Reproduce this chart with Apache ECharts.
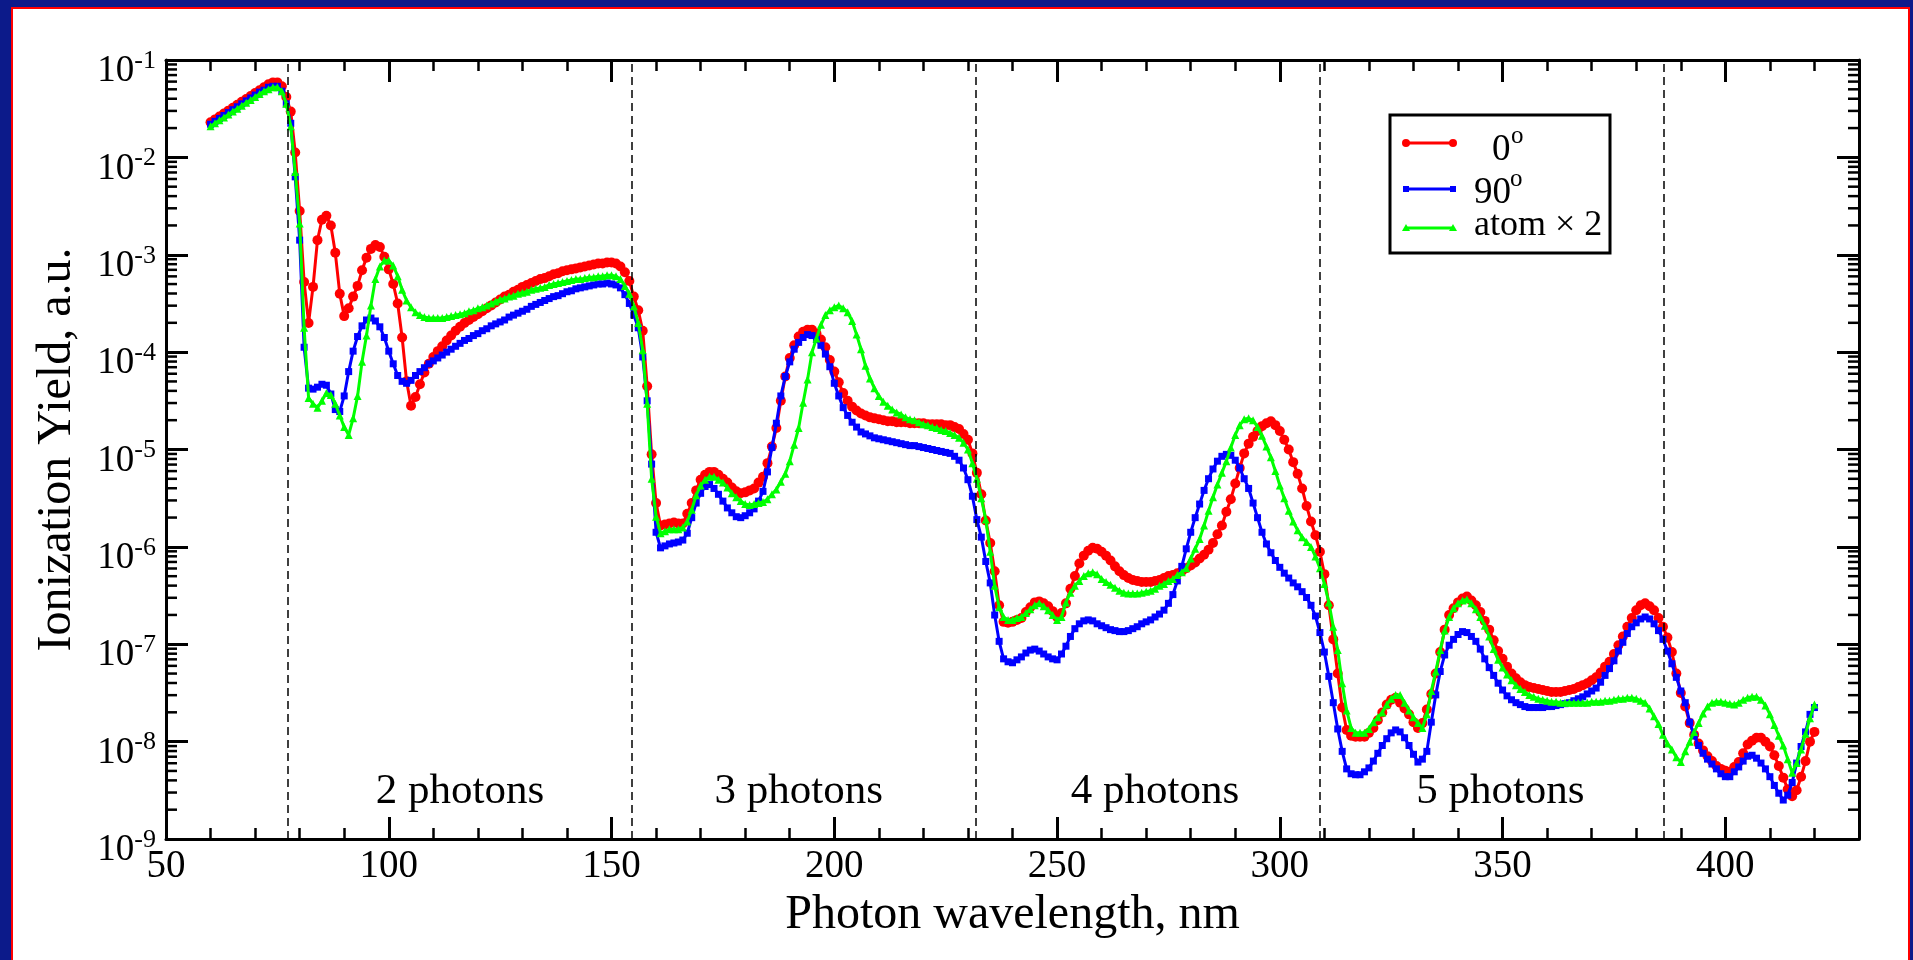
<!DOCTYPE html>
<html>
<head>
<meta charset="utf-8">
<title>Ionization yield vs photon wavelength</title>
<script src="https://cdn.jsdelivr.net/npm/echarts@6.0.0/dist/echarts.min.js"></script>
<style>
  html, body { margin: 0; padding: 0; width: 1913px; height: 960px; overflow: hidden; background: #0c1a8a; }
  #frame { position: absolute; left: 11px; top: 7px; width: 1895px; height: 960px; background: #fff; border: 2px solid #ff0000; border-bottom: none; }
  #chart { position: absolute; left: 0; top: 0; width: 1913px; height: 960px; }
</style>
</head>
<body>
<div id="frame"></div>
<div id="chart"></div>
<script>
// wavelength grid, nm
var wavelength = []
for (var w = 60; w <= 420; w++) wavelength.push(w)

// log10 of the yield (a.u.), one value per nm from 60 to 420
var yield0 = [
  -1.64,-1.61,-1.58,-1.55,-1.52,-1.49,-1.46,-1.43,-1.40,-1.37,
  -1.34,-1.31,-1.28,-1.25,-1.23,-1.23,-1.27,-1.38,-1.53,-1.95,
  -2.55,-3.28,-3.70,-3.33,-2.85,-2.64,-2.60,-2.70,-2.98,-3.40,
  -3.63,-3.55,-3.43,-3.32,-3.16,-3.03,-2.94,-2.90,-2.92,-3.02,
  -3.15,-3.30,-3.50,-3.85,-4.30,-4.55,-4.46,-4.33,-4.21,-4.12,
  -4.05,-3.99,-3.94,-3.88,-3.83,-3.78,-3.74,-3.70,-3.67,-3.64,
  -3.61,-3.58,-3.55,-3.52,-3.49,-3.46,-3.43,-3.41,-3.38,-3.36,
  -3.33,-3.31,-3.29,-3.27,-3.25,-3.24,-3.22,-3.20,-3.19,-3.17,
  -3.16,-3.15,-3.14,-3.13,-3.12,-3.11,-3.10,-3.09,-3.09,-3.08,
  -3.08,-3.09,-3.12,-3.18,-3.27,-3.43,-3.57,-3.78,-4.35,-5.05,
  -5.55,-5.78,-5.77,-5.76,-5.75,-5.76,-5.76,-5.66,-5.55,-5.42,
  -5.31,-5.26,-5.23,-5.23,-5.26,-5.30,-5.34,-5.39,-5.43,-5.45,
  -5.44,-5.42,-5.40,-5.34,-5.28,-5.14,-4.97,-4.78,-4.50,-4.25,
  -4.06,-3.93,-3.84,-3.79,-3.77,-3.77,-3.81,-3.87,-3.95,-4.08,
  -4.20,-4.31,-4.42,-4.50,-4.56,-4.60,-4.63,-4.65,-4.67,-4.68,
  -4.69,-4.70,-4.71,-4.71,-4.72,-4.72,-4.72,-4.73,-4.73,-4.73,
  -4.73,-4.74,-4.74,-4.74,-4.74,-4.75,-4.75,-4.77,-4.79,-4.84,
  -4.90,-5.04,-5.24,-5.46,-5.73,-5.96,-6.25,-6.60,-6.77,-6.78,
  -6.77,-6.75,-6.73,-6.67,-6.62,-6.57,-6.56,-6.58,-6.61,-6.66,
  -6.72,-6.68,-6.58,-6.43,-6.30,-6.17,-6.09,-6.04,-6.01,-6.02,
  -6.05,-6.09,-6.14,-6.20,-6.25,-6.29,-6.32,-6.34,-6.35,-6.36,
  -6.36,-6.36,-6.35,-6.34,-6.32,-6.30,-6.29,-6.27,-6.25,-6.22,
  -6.19,-6.16,-6.12,-6.08,-6.03,-5.96,-5.87,-5.78,-5.64,-5.51,
  -5.35,-5.19,-5.04,-4.94,-4.87,-4.81,-4.76,-4.73,-4.71,-4.75,
  -4.81,-4.90,-5.00,-5.13,-5.25,-5.40,-5.58,-5.74,-5.88,-6.05,
  -6.28,-6.60,-6.95,-7.30,-7.65,-7.88,-7.94,-7.95,-7.95,-7.95,
  -7.91,-7.86,-7.78,-7.70,-7.62,-7.57,-7.55,-7.60,-7.66,-7.72,
  -7.80,-7.86,-7.81,-7.67,-7.51,-7.30,-7.08,-6.85,-6.70,-6.63,
  -6.57,-6.53,-6.51,-6.55,-6.60,-6.67,-6.76,-6.85,-6.96,-7.07,
  -7.15,-7.23,-7.30,-7.35,-7.39,-7.42,-7.44,-7.45,-7.46,-7.47,
  -7.48,-7.49,-7.49,-7.49,-7.48,-7.47,-7.46,-7.44,-7.42,-7.40,
  -7.37,-7.34,-7.29,-7.23,-7.18,-7.10,-7.01,-6.92,-6.82,-6.73,
  -6.65,-6.60,-6.58,-6.61,-6.65,-6.73,-6.82,-6.93,-7.08,-7.30,
  -7.50,-7.64,-7.81,-7.93,-8.02,-8.09,-8.15,-8.20,-8.25,-8.28,
  -8.30,-8.31,-8.26,-8.21,-8.12,-8.03,-7.99,-7.96,-7.96,-8.00,
  -8.05,-8.14,-8.25,-8.37,-8.49,-8.56,-8.50,-8.36,-8.20,-8.00,
  -7.90
]

var yield90 = [
  -1.66,-1.63,-1.60,-1.57,-1.54,-1.51,-1.48,-1.45,-1.42,-1.39,
  -1.36,-1.33,-1.31,-1.28,-1.27,-1.27,-1.32,-1.45,-1.65,-2.20,
  -2.85,-3.95,-4.37,-4.38,-4.36,-4.33,-4.34,-4.43,-4.59,-4.61,
  -4.45,-4.20,-3.99,-3.84,-3.73,-3.67,-3.65,-3.68,-3.74,-3.85,
  -3.99,-4.12,-4.24,-4.30,-4.32,-4.29,-4.24,-4.20,-4.16,-4.12,
  -4.09,-4.06,-4.03,-4.00,-3.97,-3.94,-3.91,-3.88,-3.86,-3.83,
  -3.81,-3.78,-3.76,-3.73,-3.71,-3.69,-3.67,-3.64,-3.62,-3.60,
  -3.58,-3.56,-3.53,-3.51,-3.49,-3.47,-3.45,-3.43,-3.42,-3.40,
  -3.38,-3.37,-3.35,-3.34,-3.33,-3.32,-3.31,-3.30,-3.30,-3.29,
  -3.30,-3.31,-3.34,-3.41,-3.50,-3.62,-3.75,-4.05,-4.50,-5.15,
  -5.85,-6.01,-5.99,-5.97,-5.96,-5.95,-5.93,-5.86,-5.70,-5.55,
  -5.45,-5.38,-5.36,-5.40,-5.46,-5.53,-5.60,-5.65,-5.69,-5.70,
  -5.68,-5.65,-5.61,-5.53,-5.43,-5.23,-4.98,-4.73,-4.45,-4.25,
  -4.10,-3.97,-3.90,-3.85,-3.82,-3.83,-3.87,-3.93,-4.02,-4.15,
  -4.32,-4.45,-4.57,-4.65,-4.72,-4.77,-4.82,-4.84,-4.86,-4.88,
  -4.89,-4.90,-4.91,-4.92,-4.93,-4.94,-4.95,-4.96,-4.96,-4.97,
  -4.98,-4.99,-5.00,-5.01,-5.02,-5.03,-5.04,-5.07,-5.11,-5.19,
  -5.31,-5.48,-5.72,-5.90,-6.15,-6.37,-6.70,-6.97,-7.15,-7.18,
  -7.19,-7.16,-7.13,-7.09,-7.06,-7.05,-7.07,-7.10,-7.13,-7.15,
  -7.16,-7.10,-7.02,-6.92,-6.84,-6.79,-6.76,-6.75,-6.76,-6.79,
  -6.81,-6.83,-6.85,-6.86,-6.87,-6.87,-6.86,-6.84,-6.82,-6.79,
  -6.77,-6.75,-6.72,-6.69,-6.65,-6.58,-6.49,-6.35,-6.20,-6.02,
  -5.85,-5.70,-5.56,-5.42,-5.30,-5.20,-5.12,-5.07,-5.05,-5.06,
  -5.11,-5.19,-5.30,-5.40,-5.55,-5.70,-5.85,-5.97,-6.06,-6.14,
  -6.21,-6.27,-6.32,-6.37,-6.41,-6.46,-6.52,-6.60,-6.71,-6.88,
  -7.08,-7.33,-7.60,-7.87,-8.10,-8.28,-8.33,-8.34,-8.34,-8.31,
  -8.27,-8.20,-8.12,-8.04,-7.97,-7.91,-7.88,-7.90,-7.96,-8.04,
  -8.13,-8.21,-8.18,-8.10,-7.80,-7.52,-7.28,-7.11,-7.01,-6.95,
  -6.90,-6.87,-6.88,-6.92,-6.97,-7.05,-7.15,-7.24,-7.32,-7.40,
  -7.47,-7.53,-7.57,-7.60,-7.62,-7.64,-7.65,-7.65,-7.65,-7.65,
  -7.64,-7.64,-7.63,-7.62,-7.61,-7.60,-7.58,-7.56,-7.54,-7.51,
  -7.48,-7.45,-7.39,-7.32,-7.25,-7.17,-7.07,-6.98,-6.89,-6.82,
  -6.78,-6.74,-6.72,-6.74,-6.79,-6.86,-6.95,-7.07,-7.20,-7.34,
  -7.48,-7.60,-7.80,-7.94,-8.04,-8.12,-8.18,-8.23,-8.28,-8.33,
  -8.36,-8.36,-8.31,-8.26,-8.20,-8.15,-8.14,-8.17,-8.22,-8.28,
  -8.36,-8.45,-8.53,-8.60,-8.55,-8.42,-8.22,-8.05,-7.90,-7.72,
  -7.65
]

var yieldAtom = [
  -1.68,-1.65,-1.62,-1.59,-1.56,-1.53,-1.50,-1.47,-1.44,-1.41,
  -1.38,-1.35,-1.32,-1.30,-1.28,-1.28,-1.32,-1.45,-1.68,-2.15,
  -2.68,-3.75,-4.47,-4.53,-4.57,-4.50,-4.42,-4.44,-4.53,-4.65,
  -4.77,-4.85,-4.68,-4.45,-4.10,-3.83,-3.52,-3.25,-3.12,-3.06,
  -3.06,-3.11,-3.22,-3.36,-3.47,-3.54,-3.59,-3.62,-3.64,-3.65,
  -3.65,-3.65,-3.65,-3.64,-3.63,-3.62,-3.61,-3.60,-3.58,-3.57,
  -3.55,-3.54,-3.52,-3.50,-3.48,-3.46,-3.45,-3.43,-3.42,-3.40,
  -3.39,-3.38,-3.36,-3.35,-3.34,-3.33,-3.31,-3.30,-3.29,-3.28,
  -3.27,-3.26,-3.25,-3.25,-3.24,-3.23,-3.23,-3.22,-3.22,-3.21,
  -3.21,-3.22,-3.25,-3.32,-3.40,-3.53,-3.70,-3.98,-4.53,-5.30,
  -5.69,-5.86,-5.84,-5.82,-5.82,-5.82,-5.80,-5.74,-5.62,-5.47,
  -5.37,-5.31,-5.28,-5.28,-5.31,-5.34,-5.39,-5.45,-5.49,-5.53,
  -5.56,-5.57,-5.56,-5.55,-5.54,-5.51,-5.46,-5.41,-5.33,-5.25,
  -5.12,-4.95,-4.78,-4.52,-4.28,-4.00,-3.86,-3.72,-3.62,-3.57,
  -3.54,-3.52,-3.55,-3.59,-3.68,-3.82,-3.97,-4.14,-4.27,-4.37,
  -4.45,-4.51,-4.55,-4.59,-4.62,-4.64,-4.67,-4.69,-4.70,-4.72,
  -4.74,-4.75,-4.77,-4.78,-4.80,-4.81,-4.83,-4.85,-4.88,-4.93,
  -5.00,-5.14,-5.30,-5.50,-5.72,-6.05,-6.40,-6.62,-6.72,-6.75,
  -6.75,-6.73,-6.72,-6.68,-6.64,-6.60,-6.58,-6.61,-6.65,-6.70,
  -6.75,-6.72,-6.57,-6.47,-6.40,-6.35,-6.30,-6.27,-6.26,-6.28,
  -6.33,-6.36,-6.39,-6.42,-6.45,-6.47,-6.48,-6.48,-6.48,-6.47,
  -6.46,-6.45,-6.43,-6.40,-6.38,-6.35,-6.33,-6.29,-6.26,-6.22,
  -6.12,-6.02,-5.92,-5.78,-5.63,-5.49,-5.36,-5.24,-5.12,-4.98,
  -4.85,-4.75,-4.69,-4.68,-4.70,-4.77,-4.86,-4.97,-5.08,-5.22,
  -5.37,-5.50,-5.63,-5.74,-5.83,-5.90,-5.95,-6.00,-6.10,-6.22,
  -6.38,-6.57,-6.82,-7.06,-7.40,-7.68,-7.86,-7.91,-7.91,-7.91,
  -7.87,-7.80,-7.75,-7.70,-7.62,-7.56,-7.52,-7.52,-7.60,-7.68,
  -7.75,-7.81,-7.86,-7.72,-7.48,-7.28,-7.06,-6.86,-6.72,-6.63,
  -6.58,-6.55,-6.54,-6.58,-6.64,-6.72,-6.81,-6.92,-7.05,-7.16,
  -7.24,-7.31,-7.37,-7.42,-7.46,-7.49,-7.52,-7.54,-7.56,-7.57,
  -7.58,-7.59,-7.59,-7.60,-7.60,-7.60,-7.60,-7.60,-7.60,-7.60,
  -7.59,-7.59,-7.59,-7.58,-7.58,-7.57,-7.56,-7.56,-7.55,-7.55,
  -7.56,-7.58,-7.60,-7.66,-7.74,-7.82,-7.93,-8.02,-8.08,-8.16,
  -8.21,-8.10,-8.00,-7.90,-7.81,-7.71,-7.64,-7.60,-7.59,-7.59,
  -7.60,-7.61,-7.62,-7.60,-7.57,-7.55,-7.54,-7.54,-7.57,-7.63,
  -7.72,-7.83,-7.94,-8.04,-8.18,-8.32,-8.22,-8.08,-7.92,-7.76,
  -7.62
]

// n-photon thresholds (dashed lines) and region labels
var thresholds = [77.25, 154.5, 231.75, 309, 386.25]
var photonLabels = ['2 photons', '3 photons', '4 photons', '5 photons']
var photonLabelX = [116, 192, 272, 349.5]
var photonLabelY = 3.05e-9

var xMin = 50, xMax = 430
var yMin = 1e-9, yMax = 1e-1
var F = '"Liberation Serif", "Times New Roman", serif'

function toPairs(logs){
  return logs.map(function(e, i){ return [wavelength[i], Math.pow(10, e)] })
}

// minor ticks of the log axis: 2..9 x 10^n
var minorY = []
for (var n = -9; n < -1; n++){
  for (var k = 2; k <= 9; k++) minorY.push([xMin, k * Math.pow(10, n)])
}

function xAxisOf(pos, interval, len, width, main){
  return {
    type: 'value', position: pos, min: xMin, max: xMax, interval: interval,
    axisLine: { show: main, lineStyle: { color: '#000', width: 3 } },
    axisTick: { show: true, inside: true, length: len, lineStyle: { color: '#000', width: width } },
    axisLabel: { show: false },
    splitLine: { show: false }
  }
}

var chart = echarts.init(document.getElementById('chart'), null, { renderer: 'canvas' })

var bottomMain = xAxisOf('bottom', 50, 22, 3, true)
bottomMain.axisLabel = {
  show: true, margin: 8, color: '#000', fontFamily: F, fontSize: 39,
  showMaxLabel: false,
  formatter: function(v){ return v > 400 ? '' : String(v) }
}
bottomMain.name = 'Photon wavelength, nm'
bottomMain.nameLocation = 'middle'
bottomMain.nameGap = 46
bottomMain.nameTextStyle = { color: '#000', fontFamily: F, fontSize: 48 }

function yAxisOf(pos, labels){
  var ax = {
    type: 'log', logBase: 10, position: pos, min: yMin, max: yMax, splitNumber: 8,
    axisLine: { show: true, lineStyle: { color: '#000', width: 3 } },
    axisTick: { show: true, inside: true, length: 22, lineStyle: { color: '#000', width: 3 } },
    axisLabel: { show: false },
    splitLine: { show: false },
    minorTick: { show: false }
  }
  if (labels){
    ax.axisLabel = {
      show: true, margin: 10, color: '#000', padding: [18, 0, 0, 0],
      formatter: function(v){ return '{b|10}{s|' + Math.round(Math.log10(v)) + '}' },
      rich: {
        b: { fontFamily: F, fontSize: 37, color: '#000', lineHeight: 42, verticalAlign: 'bottom' },
        s: { fontFamily: F, fontSize: 26, color: '#000', lineHeight: 24, verticalAlign: 'top' }
      }
    }
    ax.name = 'Ionization Yield, a.u.'
    ax.nameLocation = 'middle'
    ax.nameGap = 85
    ax.nameTextStyle = { color: '#000', fontFamily: F, fontSize: 48 }
  }
  return ax
}

function lineSeries(name, logs, symbol, size, color, z){
  return {
    name: name, type: 'line', data: toPairs(logs),
    symbol: symbol, symbolSize: size, showAllSymbol: true,
    lineStyle: { color: color, width: 3 },
    itemStyle: { color: color },
    emphasis: { disabled: true },
    z: z
  }
}

var legendX = 1390, legendY = 115
var option = {
  animation: false,
  backgroundColor: 'transparent',
  grid: { left: 166, top: 60, right: 54, bottom: 121, containLabel: false, outerBoundsMode: 'none' },
  xAxis: [
    bottomMain,
    xAxisOf('bottom', 10, 11, 2.5, false),
    xAxisOf('top', 50, 22, 3, true),
    xAxisOf('top', 10, 11, 2.5, false)
  ],
  yAxis: [yAxisOf('left', true), yAxisOf('right', false)],
  series: [
    {
      type: 'custom', silent: true, z: 6, clip: false,
      data: minorY,
      renderItem: function(params, api){
        var v = api.value(1)
        var l = api.coord([xMin, v])
        var r = api.coord([xMax, v])
        return { type: 'group', children: [
          { type: 'line', shape: { x1: l[0], y1: l[1], x2: l[0] + 11, y2: l[1] }, style: { stroke: '#000', lineWidth: 2.5 } },
          { type: 'line', shape: { x1: r[0] - 11, y1: r[1], x2: r[0], y2: r[1] }, style: { stroke: '#000', lineWidth: 2.5 } }
        ] }
      }
    },
    {
      type: 'scatter', silent: true, symbolSize: 1, z: 1,
      itemStyle: { color: 'rgba(0,0,0,0)', opacity: 1 },
      data: photonLabels.map(function(t, i){ return { value: [photonLabelX[i], photonLabelY], label: { formatter: t } } }),
      label: { show: true, position: 'inside', color: '#000', opacity: 1, textBorderWidth: 0, fontFamily: F, fontSize: 43 },
      markLine: {
        silent: true, symbol: ['none', 'none'], label: { show: false },
        lineStyle: { color: '#000', type: [8, 5], width: 1.5, opacity: 1 },
        emphasis: { disabled: true },
        data: thresholds.map(function(v){ return { xAxis: v } })
      }
    },
    lineSeries('0', yield0, 'circle', 10, '#ff0000', 2),
    lineSeries('90', yield90, 'rect', 7, '#0000ff', 3),
    lineSeries('atom x 2', yieldAtom, 'triangle', 8, '#00ff00', 4)
  ],
  graphic: [
    { type: 'rect', z: 100, shape: { x: legendX, y: legendY, width: 220, height: 138 }, style: { fill: '#fff', stroke: '#000', lineWidth: 3 } },
    { type: 'line', z: 101, shape: { x1: 1406, y1: 143, x2: 1453, y2: 143 }, style: { stroke: '#ff0000', lineWidth: 3 } },
    { type: 'circle', z: 101, shape: { cx: 1406, cy: 143, r: 4 }, style: { fill: '#ff0000' } },
    { type: 'circle', z: 101, shape: { cx: 1453, cy: 143, r: 4 }, style: { fill: '#ff0000' } },
    { type: 'line', z: 101, shape: { x1: 1406, y1: 189, x2: 1453, y2: 189 }, style: { stroke: '#0000ff', lineWidth: 3 } },
    { type: 'rect', z: 101, shape: { x: 1403, y: 186, width: 6, height: 6 }, style: { fill: '#0000ff' } },
    { type: 'rect', z: 101, shape: { x: 1450, y: 186, width: 6, height: 6 }, style: { fill: '#0000ff' } },
    { type: 'line', z: 101, shape: { x1: 1406, y1: 228, x2: 1453, y2: 228 }, style: { stroke: '#00ff00', lineWidth: 3 } },
    { type: 'polygon', z: 101, shape: { points: [[1406, 224], [1410, 231], [1402, 231]] }, style: { fill: '#00ff00' } },
    { type: 'polygon', z: 101, shape: { points: [[1453, 224], [1457, 231], [1449, 231]] }, style: { fill: '#00ff00' } },
    { type: 'text', z: 101, x: 1492, y: 150, style: { text: '0', fill: '#000', fontFamily: F, fontSize: 37, verticalAlign: 'middle' } },
    { type: 'text', z: 101, x: 1511, y: 136, style: { text: 'o', fill: '#000', fontFamily: F, fontSize: 25, verticalAlign: 'middle' } },
    { type: 'text', z: 101, x: 1474, y: 193, style: { text: '90', fill: '#000', fontFamily: F, fontSize: 37, verticalAlign: 'middle' } },
    { type: 'text', z: 101, x: 1510, y: 179, style: { text: 'o', fill: '#000', fontFamily: F, fontSize: 25, verticalAlign: 'middle' } },
    { type: 'text', z: 101, x: 1474, y: 226, style: { text: 'atom \u00d7 2', fill: '#000', fontFamily: F, fontSize: 36, verticalAlign: 'middle' } }
  ]
}

chart.setOption(option)
</script>
</body>
</html>
